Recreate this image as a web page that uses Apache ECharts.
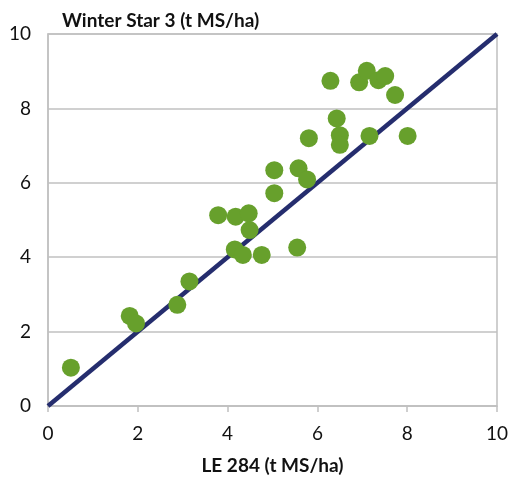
<!DOCTYPE html>
<html><head><meta charset="utf-8">
<script src="https://cdn.jsdelivr.net/npm/echarts@6/dist/echarts.min.js"></script>
<style>html,body{margin:0;padding:0;background:#fff}#c{width:512px;height:478px}</style>
</head><body><div id="c"></div>
<script>
const xValues = [0.51,1.82,1.96,2.88,3.15,3.79,4.18,4.47,4.49,4.16,4.34,4.76,5.55,5.04,5.04,5.58,5.77,5.81,6.29,6.43,6.50,6.50,6.93,7.10,7.36,7.51,7.73,7.16,8.01];
const yValues = [1.03,2.42,2.22,2.72,3.35,5.13,5.09,5.18,4.73,4.21,4.06,4.06,4.26,6.34,5.72,6.39,6.09,7.20,8.74,7.73,7.28,7.02,8.70,9.01,8.76,8.87,8.36,7.26,7.26];
const lineX = [0,10];
const lineY = [0,10];
const xTitle = 'LE 284 (t MS/ha)';
const yTitle = 'Winter Star 3 (t MS/ha)';

const font = 'Lato, "Open Sans", sans-serif';
const chart = echarts.init(document.getElementById('c'));
chart.setOption({
  animation:false,
  title:{text:yTitle,left:57,top:6,textStyle:{fontFamily:font,fontSize:19,fontWeight:'bold',color:'#111'}},
  grid:{left:48,right:15,top:34,bottom:72,show:true,borderColor:'#c0c0c0',borderWidth:1.5,backgroundColor:'transparent',
    containLabel:false,outerBoundsMode:'none'},
  xAxis:{type:'value',min:0,max:10,interval:2,
    name:xTitle,nameLocation:'middle',nameGap:50,
    nameTextStyle:{fontFamily:font,fontSize:19,fontWeight:'bold',color:'#111'},
    axisLine:{lineStyle:{color:'#c0c0c0',width:1.5}},
    axisTick:{show:true,length:6,lineStyle:{color:'#c0c0c0',width:1.5}},
    axisLabel:{fontFamily:font,fontSize:19,color:'#111',margin:18},
    splitLine:{show:false}},
  yAxis:{type:'value',min:0,max:10,interval:2,
    axisLine:{show:true,lineStyle:{color:'#c0c0c0',width:1.5}},
    axisTick:{show:false},
    axisLabel:{fontFamily:font,fontSize:19,color:'#111',margin:17},
    splitLine:{lineStyle:{color:'#c0c0c0',width:1.5}}},
  series:[
    {type:'line',data:lineX.map((x,i)=>[x,lineY[i]]),symbol:'none',
      lineStyle:{color:'#252d6e',width:4.5},z:2},
    {type:'scatter',data:xValues.map((x,i)=>[x,yValues[i]]),symbolSize:18,
      itemStyle:{color:'#67a02c',opacity:1},z:3}
  ]
});
</script></body></html>
